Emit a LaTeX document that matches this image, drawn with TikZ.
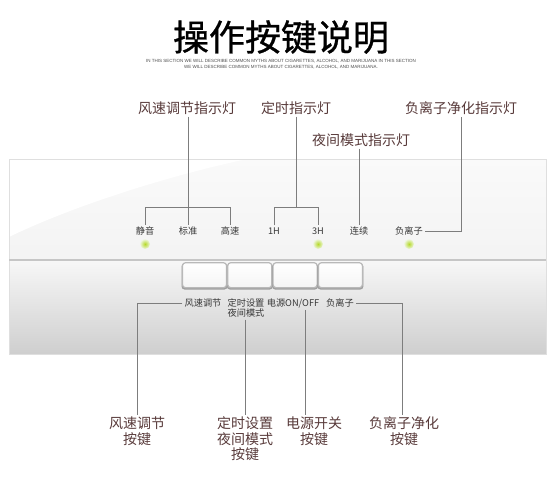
\documentclass[tikz,border=0pt]{standalone}
\usepackage{fontspec}
\usepackage{xcolor}
\newfontfamily\cjk{Noto Sans CJK SC}
\newfontfamily\cjkheavy[FakeBold=0.8]{Noto Sans CJK SC}
\newfontfamily\latinsans{Liberation Sans}
\usetikzlibrary{positioning}

\definecolor{labelbrown}{RGB}{88,58,58}
\definecolor{panelgray}{RGB}{55,55,55}
\definecolor{wiregray}{RGB}{125,125,125}
\definecolor{lampgreen}{RGB}{150,200,60}

\tikzset{
	callout/.style={font=\cjk\fontsize{14}{15.5}\selectfont, text=labelbrown, align=center, inner sep=2pt},
	marking/.style={font=\cjk\fontsize{9.2}{10.2}\selectfont, text=panelgray, align=center, inner sep=2pt},
	wire/.style={draw=wiregray, line width=1pt},
	keybox/.style={draw=gray!55, line width=1.2pt, rounded corners=3pt, minimum width=44pt, minimum height=25pt, top color=white, bottom color=gray!8},
	keyshadow/.style={fill=gray!75, rounded corners=3pt, minimum width=46pt, minimum height=26pt, inner sep=0pt},
	lamp/.style={circle, minimum size=10pt, inner sep=0pt, shading=radial, inner color=lampgreen!70!yellow, outer color=lampgreen!15!white}
}

\begin{document}
\begin{tikzpicture}[x=1pt, y=-1pt]

	\newcommand{\panelL}{9}
	\newcommand{\panelR}{546}
	\newcommand{\panelT}{159}
	\newcommand{\panelM}{260}
	\newcommand{\panelB}{354}
	\newcommand{\bracketY}{207}

	\useasboundingbox[fill=white] (0,0) rectangle (560,477);

	% heading
	\node[font=\cjkheavy\fontsize{36}{36}\selectfont] (title) at (281,37) {操作按键说明};
	\node[font=\latinsans\fontsize{4.5}{5}\selectfont, text=gray!60!black, inner sep=0pt] (subA) at (281,61) {IN THIS SECTION WE WILL DESCRIBE COMMON MYTHS ABOUT CIGARETTES, ALCOHOL, AND MARIJUANA IN THIS SECTION};
	\node[font=\latinsans\fontsize{4.5}{5}\selectfont, text=gray!60!black, inner sep=0pt] (subB) at (281,67) {WE WILL DESCRIBE COMMON MYTHS ABOUT CIGARETTES, ALCOHOL, AND MARIJUANA.};

	% panel
	\shade[top color=gray!4, bottom color=gray!9] (\panelL,\panelT) rectangle (\panelR,\panelM);
	\fill[white] (\panelL,\panelT) -- (247,\panelT) .. controls (150,180) and (60,212) .. (\panelL,237) -- cycle;
	\shade[top color=gray!6, middle color=gray!11, bottom color=gray!38] (\panelL,\panelM) rectangle (\panelR,\panelB);
	\draw[gray!25] (\panelL,\panelT) rectangle (\panelR,\panelB);
	\draw[gray!45, line width=1.6pt] (\panelL,\panelM) -- (\panelR,\panelM);

	% keys
	\foreach \i in {0,...,3} {
		\node[keyshadow] (keyShade\i) at (204.5+45.3*\i,276.5) {};
		\node[keybox] (key\i) at (204.5+45.3*\i,275.2) {};
	}

	% indicator markings
	\node[marking] (mute) at (145,231) {静音};
	\node[marking] (std) at (188,231) {标准};
	\node[marking] (high) at (230,231) {高速};
	\node[marking] (hOne) at (274,231) {1H};
	\node[marking] (hThree) at (318,231) {3H};
	\node[marking] (cont) at (359,231) {连续};
	\node[marking] (ion) at (409,231) {负离子};

	\node[lamp] (lampMute) at (145,244) {};
	\node[lamp] (lampThree) at (318,244) {};
	\node[lamp] (lampIon) at (409,244) {};

	% key markings
	\node[marking] (kFan) at (203,303) {风速调节};
	\node[marking] (kTimer) at (246,308) {定时设置\\夜间模式};
	\node[marking] (kPower) at (293,303) {电源ON/OFF};
	\node[marking] (kIon) at (340,303) {负离子};

	% callouts
	\node[callout] (lblFan) at (187,108) {风速调节指示灯};
	\node[callout] (lblTimer) at (296,108) {定时指示灯};
	\node[callout] (lblNight) at (361,140) {夜间模式指示灯};
	\node[callout] (lblIon) at (461,108) {负离子净化指示灯};

	\node[callout] (bFan) at (137,431) {风速调节\\按键};
	\node[callout] (bTimer) at (245,439) {定时设置\\夜间模式\\按键};
	\node[callout] (bPower) at (314,431) {电源开关\\按键};
	\node[callout] (bIon) at (404,431) {负离子净化\\按键};

	\coordinate (fanJoin) at (188,\bracketY);
	\coordinate (timerJoin) at (296,\bracketY);

	% upper wires
	\draw[wire] (std.north |- lblFan.south) -- (std.north);
	\draw[wire] (mute.north) -- (mute.north |- fanJoin) -- (high.north |- fanJoin) -- (high.north);
	\draw[wire] (lblTimer.south) -- (timerJoin);
	\draw[wire] (hOne.north) -- (hOne.north |- timerJoin) -- (hThree.north |- timerJoin) -- (hThree.north);
	\draw[wire] (cont.north |- lblNight.south) -- (cont.north);
	\draw[wire] (ion.east) -| (lblIon.south);

	% lower wires
	\draw[wire] (kFan.west) -| (bFan.north);
	\draw[wire] (bTimer.north |- kTimer.south) -- (bTimer.north);
	\draw[wire] ([xshift=12pt]kPower.south) -- ([xshift=12pt]kPower.south |- bPower.north);
	\draw[wire] (kIon.east) -| ([xshift=-2pt]bIon.north);

\end{tikzpicture}
\end{document}
